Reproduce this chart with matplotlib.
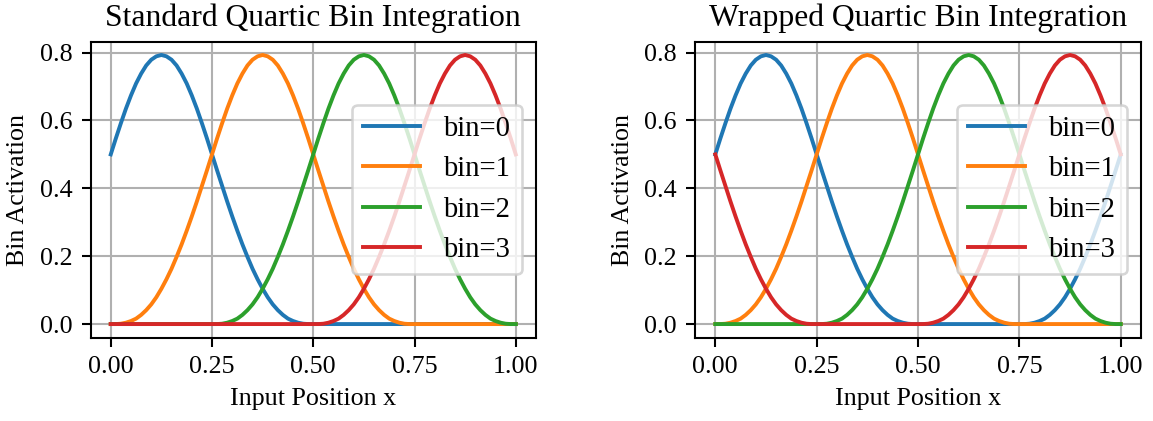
import numpy as np
import matplotlib
matplotlib.use('Agg')
import matplotlib.pyplot as plt

plt.rcParams['font.family'] = 'serif'
plt.rcParams['font.serif'] = ['Liberation Serif', 'DejaVu Serif']

# input positions sampled every 0.0125
x = np.linspace(0, 1, 81)

# standard (non-wrapped) bin activations
std_bin0 = [0.500, 0.547, 0.592, 0.635, 0.674, 0.709, 0.738, 0.762, 0.779, 0.789,
            0.793, 0.789, 0.779, 0.762, 0.738, 0.709, 0.674, 0.635, 0.592, 0.547,
            0.500, 0.453, 0.407, 0.361, 0.317, 0.275, 0.235, 0.198, 0.163, 0.132,
            0.104, 0.079, 0.058, 0.041, 0.027, 0.016, 0.009, 0.004, 0.001, 0.000,
            0.000] + [0.0] * 40
std_bin1 = [0.000, 0.000, 0.001, 0.004, 0.009, 0.016, 0.027, 0.041, 0.058, 0.079,
            0.104, 0.132, 0.163, 0.198, 0.235, 0.275, 0.317, 0.361, 0.407, 0.453,
            0.500, 0.547, 0.592, 0.635, 0.674, 0.709, 0.738, 0.762, 0.779, 0.789,
            0.793, 0.789, 0.779, 0.762, 0.738, 0.709, 0.674, 0.635, 0.592, 0.547,
            0.500, 0.453, 0.407, 0.361, 0.317, 0.275, 0.235, 0.198, 0.163, 0.132,
            0.104, 0.079, 0.058, 0.041, 0.027, 0.016, 0.009, 0.004, 0.001, 0.000,
            0.000] + [0.0] * 20
std_bin2 = [0.0] * 20 + [
            0.000, 0.000, 0.001, 0.004, 0.009, 0.016, 0.027, 0.041, 0.058, 0.079,
            0.104, 0.132, 0.163, 0.198, 0.235, 0.275, 0.317, 0.361, 0.407, 0.453,
            0.500, 0.547, 0.592, 0.635, 0.674, 0.709, 0.738, 0.762, 0.779, 0.789,
            0.793, 0.789, 0.779, 0.762, 0.738, 0.709, 0.674, 0.635, 0.592, 0.547,
            0.500, 0.453, 0.407, 0.361, 0.317, 0.275, 0.235, 0.198, 0.163, 0.132,
            0.104, 0.079, 0.058, 0.041, 0.027, 0.016, 0.009, 0.004, 0.001, 0.000,
            0.000]
std_bin3 = [0.0] * 40 + [
            0.000, 0.000, 0.001, 0.004, 0.009, 0.016, 0.027, 0.041, 0.058, 0.079,
            0.104, 0.132, 0.163, 0.198, 0.235, 0.275, 0.317, 0.361, 0.407, 0.453,
            0.500, 0.547, 0.592, 0.635, 0.674, 0.709, 0.738, 0.762, 0.779, 0.789,
            0.793, 0.789, 0.779, 0.762, 0.738, 0.709, 0.674, 0.635, 0.592, 0.547,
            0.500]

# wrapped bin activations (bins 1 and 2 are the same as standard)
wrap_bin0 = [0.500, 0.547, 0.592, 0.635, 0.674, 0.709, 0.738, 0.762, 0.779, 0.789,
             0.793, 0.789, 0.779, 0.762, 0.738, 0.709, 0.674, 0.635, 0.592, 0.547,
             0.500, 0.453, 0.407, 0.361, 0.317, 0.275, 0.235, 0.198, 0.163, 0.132,
             0.104, 0.079, 0.058, 0.041, 0.027, 0.016, 0.009, 0.004, 0.001, 0.000
             ] + [0.0] * 20 + [
             0.000, 0.000, 0.001, 0.004, 0.009, 0.016, 0.027, 0.041, 0.058, 0.079,
             0.104, 0.132, 0.163, 0.198, 0.235, 0.275, 0.317, 0.361, 0.407, 0.453,
             0.500]
wrap_bin1 = std_bin1
wrap_bin2 = std_bin2
wrap_bin3 = [0.500, 0.453, 0.407, 0.361, 0.317, 0.275, 0.235, 0.198, 0.163, 0.132,
             0.104, 0.079, 0.058, 0.041, 0.027, 0.016, 0.009, 0.004, 0.001, 0.000,
             0.000] + [0.0] * 19 + [
             0.000, 0.000, 0.001, 0.004, 0.009, 0.016, 0.027, 0.041, 0.058, 0.079,
             0.104, 0.132, 0.163, 0.198, 0.235, 0.275, 0.317, 0.361, 0.407, 0.453,
             0.500, 0.547, 0.592, 0.635, 0.674, 0.709, 0.738, 0.762, 0.779, 0.789,
             0.793, 0.789, 0.779, 0.762, 0.738, 0.709, 0.674, 0.635, 0.592, 0.547,
             0.500]

labels = ['bin=0', 'bin=1', 'bin=2', 'bin=3']
titles = ['Standard Quartic Bin Integration', 'Wrapped Quartic Bin Integration']
panels = [[std_bin0, std_bin1, std_bin2, std_bin3],
          [wrap_bin0, wrap_bin1, wrap_bin2, wrap_bin3]]

dpi = 187
fig = plt.figure(figsize=(1153/dpi, 421/dpi), dpi=dpi)
axes = [fig.add_axes([0.0785, 0.1983, 0.3864, 0.7031]),
        fig.add_axes([0.6028, 0.1983, 0.3868, 0.7031])]

for ax, series, tit in zip(axes, panels, titles):
    for y, l in zip(series, labels):
        ax.plot(x, y, label=l)
    ax.set_title(tit, fontsize=12.2)
    ax.set_xlabel('Input Position x')
    ax.set_ylabel('Bin Activation')
    ax.set_xticks([0, 0.25, 0.5, 0.75, 1.0])
    ax.set_yticks([0, 0.2, 0.4, 0.6, 0.8])
    ax.grid(True)
    ax.legend(loc='center right', fontsize=11)

plt.savefig('out.png', dpi=dpi)
